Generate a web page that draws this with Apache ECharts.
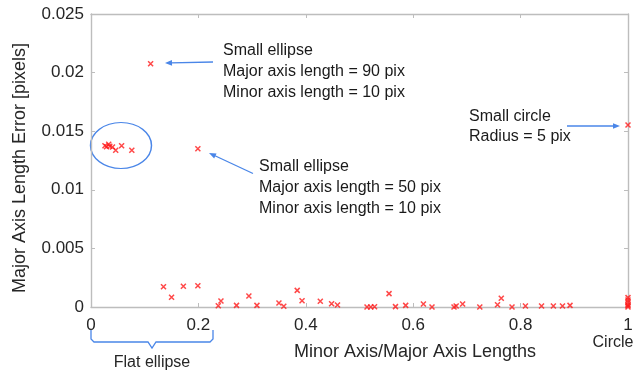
<!DOCTYPE html>
<html>
<head>
<meta charset="utf-8">
<script src="https://cdn.jsdelivr.net/npm/echarts@6/dist/echarts.min.js"></script>
<style>
html,body{margin:0;padding:0;background:#fff;}
#chart{width:636px;height:370px;}
</style>
</head>
<body>
<div id="chart"></div>
<script>
// Data: ratio = minor axis / major axis length; err = major axis length error [pixels]
const ratio = [
  0.026, 0.029, 0.033, 0.035, 0.040, 0.046, 0.057, 0.076,
  0.111, 0.199, 1.000,
  0.135, 0.150, 0.172, 0.199, 0.237, 0.242, 0.271, 0.294, 0.309, 0.350,
  0.359, 0.384, 0.393, 0.427, 0.448, 0.459, 0.514, 0.521, 0.528, 0.555,
  0.567, 0.586, 0.619, 0.635, 0.676, 0.680, 0.692, 0.724, 0.757, 0.764,
  0.784, 0.809, 0.839, 0.861, 0.878, 0.892,
  1.000, 1.000, 1.000, 1.000, 1.000, 1.000
];
const err = [
  0.01376, 0.01368, 0.01388, 0.01371, 0.01365, 0.01337, 0.01376, 0.01337,
  0.02076, 0.01351, 0.01553,
  0.00173, 0.00083, 0.00177, 0.00182, 0.00011, 0.00051, 0.00014, 0.00094, 0.00014, 0.00034,
  0.00006, 0.00142, 0.00054, 0.00049, 0.00028, 0.00017, 0.00000, 0.00000, 0.00002, 0.00114,
  0.00003, 0.00014, 0.00026, 0.00000, 0.00000, 0.00009, 0.00026, 0.00000, 0.00020, 0.00074,
  0.00000, 0.00009, 0.00009, 0.00009, 0.00009, 0.00014,
  0.00080, 0.00060, 0.00040, 0.00020, 0.00010, 0.00000
];
const xTicks = [0, 0.2, 0.4, 0.6, 0.8, 1];
const yTicks = [0, 0.005, 0.01, 0.015, 0.02, 0.025];
const xTitle = 'Minor Axis/Major Axis Lengths';
const yTitle = 'Major Axis Length Error [pixels]';
const note1 = ['Small ellipse', 'Major axis length = 90 pix', 'Minor axis length = 10 pix'];
const note2 = ['Small ellipse', 'Major axis length = 50 pix', 'Minor axis length = 10 pix'];
const note3 = ['Small circle', 'Radius = 5 pix'];
const circleLabel = 'Circle';
const flatLabel = 'Flat ellipse';

const points = ratio.map((r, i) => [r, err[i]]);

const FONT = '"Liberation Sans", Arial, Helvetica, sans-serif';
const AXIS_COLOR = '#bdbdbd';
const TEXT_COLOR = '#262626';
const BLUE = '#4a86e8';

function arrow(x1, y1, x2, y2) {
  const dx = x2 - x1, dy = y2 - y1;
  const len = Math.sqrt(dx * dx + dy * dy);
  const ux = dx / len, uy = dy / len;
  const hl = 7, hw = 2.8;
  const bx = x2 - ux * hl, by = y2 - uy * hl;
  return [
    { type: 'line', silent: true, shape: { x1: x1, y1: y1, x2: bx + ux * 1, y2: by + uy * 1 },
      style: { stroke: BLUE, lineWidth: 1.3 } },
    { type: 'polygon', silent: true,
      shape: { points: [[x2, y2], [bx - uy * hw, by + ux * hw], [bx + uy * hw, by - ux * hw]] },
      style: { fill: BLUE } }
  ];
}

function note(lines, x, y, lh) {
  return { type: 'text', silent: true, x: x, y: y,
    style: { text: lines.join('\n'), font: '16px ' + FONT, lineHeight: lh, fill: '#1a1a1a',
      textAlign: 'left', textVerticalAlign: 'top' } };
}

const chart = echarts.init(document.getElementById('chart'), null, { renderer: 'canvas' });

const axisCommon = {
  axisLine: { show: true, onZero: false, lineStyle: { color: AXIS_COLOR, width: 1.4 } },
  axisTick: { show: true, inside: true, length: 4, lineStyle: { color: AXIS_COLOR, width: 1 } },
  splitLine: { show: false }
};

chart.setOption({
  animation: false,
  backgroundColor: '#ffffff',
  grid: { left: 91, right: 8, top: 14, bottom: 63, containLabel: false, outerBoundsMode: 'none' },
  xAxis: [
    Object.assign({
      type: 'value', min: xTicks[0], max: xTicks[xTicks.length - 1], interval: 0.2, position: 'bottom',
      axisLabel: { show: true, color: TEXT_COLOR, fontSize: 17, fontFamily: FONT, margin: 10,
        formatter: v => String(+v.toFixed(3)) }
    }, axisCommon),
    Object.assign({
      type: 'value', min: 0, max: 1, interval: 0.2, position: 'top',
      axisLabel: { show: false }
    }, axisCommon)
  ],
  yAxis: [
    Object.assign({
      type: 'value', min: yTicks[0], max: yTicks[yTicks.length - 1], interval: 0.005, position: 'left',
      axisLabel: { show: true, color: TEXT_COLOR, fontSize: 17, fontFamily: FONT, margin: 7,
        formatter: v => String(+v.toFixed(4)) }
    }, axisCommon),
    Object.assign({
      type: 'value', min: 0, max: 0.025, interval: 0.005, position: 'right',
      axisLabel: { show: false }
    }, axisCommon)
  ],
  series: [{
    type: 'scatter',
    xAxisIndex: 0, yAxisIndex: 0,
    clip: false,
    data: points,
    symbol: 'path://M0,0L10,10M10,0L0,10',
    symbolSize: 5,
    itemStyle: { color: 'rgba(0,0,0,0)', borderColor: '#ff1a1a', borderWidth: 1.5 },
    emphasis: { disabled: true }
  }],
  graphic: [].concat(
    [
      { type: 'text', silent: true, x: 415, y: 352,
        style: { text: xTitle, font: '18px ' + FONT, fill: TEXT_COLOR, textAlign: 'center', textVerticalAlign: 'middle' } },
      { type: 'text', silent: true, x: 20, y: 168, rotation: Math.PI / 2,
        style: { text: yTitle, font: '18px ' + FONT, fill: TEXT_COLOR, textAlign: 'center', textVerticalAlign: 'middle' } },
      { type: 'text', silent: true, x: 613, y: 343,
        style: { text: circleLabel, font: '16px ' + FONT, fill: TEXT_COLOR, textAlign: 'center', textVerticalAlign: 'middle' } },
      { type: 'text', silent: true, x: 152, y: 363,
        style: { text: flatLabel, font: '16px ' + FONT, fill: TEXT_COLOR, textAlign: 'center', textVerticalAlign: 'middle' } },
      { type: 'circle', silent: true, x: 121, y: 145.5, scaleX: 30.5 / 23, scaleY: 1,
        shape: { cx: 0, cy: 0, r: 23 }, style: { fill: 'none', stroke: BLUE, lineWidth: 1.1 } },
      { type: 'polyline', silent: true,
        shape: { points: [[91, 330], [91, 339], [94, 342], [148, 342], [152, 348], [156, 342], [210, 342], [213, 339], [213, 330]] },
        style: { stroke: BLUE, lineWidth: 1.3, fill: 'none' } },
      note(note1, 223, 40, 21),
      note(note2, 259, 156.5, 21),
      note(note3, 469, 106.5, 20)
    ],
    arrow(213, 62, 165, 63),
    arrow(253, 173.5, 209, 153),
    arrow(567, 126, 620, 126)
  )
});
</script>
</body>
</html>
